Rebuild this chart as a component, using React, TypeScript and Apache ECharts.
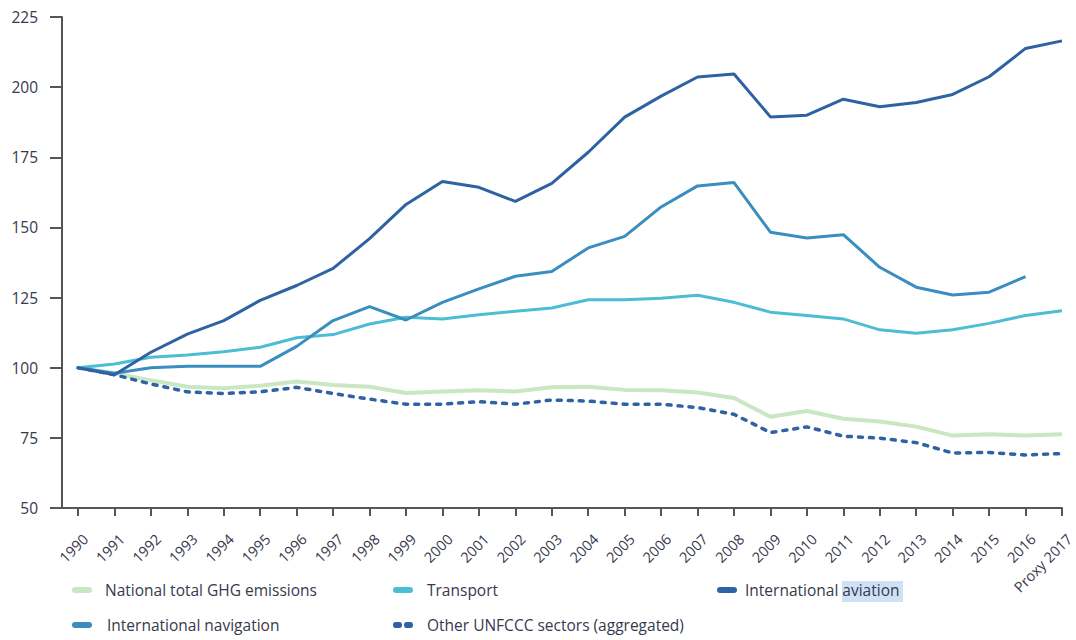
import React, { useEffect, useRef } from "react";
import * as echarts from "echarts";

const categories = [
  "1990", "1991", "1992", "1993", "1994", "1995", "1996", "1997", "1998", "1999",
  "2000", "2001", "2002", "2003", "2004", "2005", "2006", "2007", "2008", "2009",
  "2010", "2011", "2012", "2013", "2014", "2015", "2016", "Proxy 2017",
];

const ghgTotal = [
  100, 98, 95.5, 93.2, 92.7, 93.6, 95.1, 93.8, 93.2, 91, 91.5, 92, 91.5, 93, 93.2,
  92.1, 92, 91.2, 89.2, 82.5, 84.6, 81.8, 80.8, 79, 75.8, 76.3, 75.8, 76.3,
];
const transport = [
  100, 101.3, 103.7, 104.5, 105.7, 107.3, 110.7, 111.8, 115.6, 118, 117.4, 118.9,
  120.1, 121.3, 124.2, 124.2, 124.8, 125.8, 123.3, 119.8, 118.6, 117.4, 113.5, 112.3,
  113.5, 115.8, 118.6, 120.3,
];
const aviation = [
  100, 97.5, 105.5, 112, 116.8, 124, 129.3, 135.4, 146, 158.2, 166.4, 164.3, 159.3,
  165.7, 176.8, 189.3, 196.8, 203.6, 204.7, 189.4, 190, 195.7, 193, 194.5, 197.4,
  203.7, 213.8, 216.5,
];
const navigation = [
  100, 98, 100, 100.5, 100.5, 100.5, 107.6, 116.8, 121.8, 117, 123.3, 128.1, 132.6,
  134.3, 142.7, 146.8, 157.3, 164.8, 166, 148.3, 146.2, 147.4, 135.8, 128.7, 125.9,
  126.9, 132.5, null,
];
const otherSectors = [
  100, 97.5, 94.2, 91.4, 90.8, 91.4, 93, 90.8, 88.8, 87, 87, 87.9, 87, 88.5, 88.1, 87,
  87, 85.8, 83.4, 76.9, 78.9, 75.6, 74.9, 73.3, 69.6, 69.8, 68.9, 69.4,
];

const yTicks = { min: 50, max: 225, step: 25 };

const names = {
  ghg: "National total GHG emissions",
  transport: "Transport",
  aviation: "International aviation",
  navigation: "International navigation",
  other: "Other UNFCCC sectors (aggregated)",
};

const colors = {
  ghg: "#c9e7c2",
  transport: "#4dbdd3",
  aviation: "#2e62a3",
  navigation: "#3a8ebf",
  other: "#2e62a3",
};

const textColor = "#38384e";
const axisColor = "#555555";
const font = "'Open Sans', 'Noto Sans', sans-serif";

const dashIcon = "path://M3,0H17A3,3 0 0 1 17,6H3A3,3 0 0 1 3,0Z";
const dotIcon =
  "path://M2.5,0H6.5A2.5,3 0 0 1 6.5,6H2.5A2.5,3 0 0 1 2.5,0Z M13.5,0H17.5A2.5,3 0 0 1 17.5,6H13.5A2.5,3 0 0 1 13.5,0Z";

function legendItem(name: string, left: number, top: number, icon: string, gap: number) {
  return {
    data: [{ name, icon }],
    left,
    top,
    orient: "horizontal",
    itemWidth: 20,
    itemHeight: 6,
    selectedMode: false,
    padding: 0,
    textStyle: {
      color: textColor,
      fontFamily: font,
      fontSize: 15.5,
      padding: [0, 0, 0, gap],
    },
  };
}

export default function App() {
  const ref = useRef<HTMLDivElement>(null);

  useEffect(() => {
    if (!ref.current) return;
    const chart = echarts.init(ref.current, undefined, { renderer: "svg" });
    const option = {
      animation: false,
      backgroundColor: "#ffffff",
      grid: {
        left: 78,
        right: 14,
        top: 17,
        bottom: 132,
        containLabel: false,
        outerBoundsMode: "none",
      },
      legend: [
        legendItem(names.ghg, 72, 582, dashIcon, 8),
        legendItem(names.transport, 393, 582, dashIcon, 9),
        legendItem(names.aviation, 717, 582, dashIcon, 3),
        legendItem(names.navigation, 72, 617, dashIcon, 10),
        legendItem(names.other, 393, 617, dotIcon, 9),
      ],
      graphic: [
        {
          type: "rect",
          z: -1,
          shape: { x: 842, y: 581, width: 61, height: 21 },
          style: { fill: "#cfe1f7" },
        },
        {
          type: "line",
          shape: { x1: 50, y1: 508, x2: 79, y2: 508 },
          style: { stroke: axisColor, lineWidth: 2 },
        },
      ],
      xAxis: {
        type: "category",
        data: categories,
        boundaryGap: false,
        axisLine: { lineStyle: { color: axisColor, width: 2 } },
        axisTick: { show: true, length: 8, lineStyle: { color: axisColor, width: 2 } },
        axisLabel: {
          rotate: 45,
          interval: 0,
          margin: 21,
          verticalAlign: "top",
          padding: [3, 0, 0, 0],
          color: textColor,
          fontFamily: font,
          fontSize: 14.5,
        },
        splitLine: { show: false },
      },
      yAxis: {
        type: "value",
        min: yTicks.min,
        max: yTicks.max,
        interval: yTicks.step,
        offset: 16,
        axisLine: { show: true, lineStyle: { color: axisColor, width: 2 } },
        axisTick: { show: true, length: 12, lineStyle: { color: axisColor, width: 2 } },
        axisLabel: {
          margin: 24,
          color: textColor,
          fontFamily: font,
          fontSize: 15.5,
        },
        splitLine: { show: false },
      },
      series: [
        {
          name: names.ghg,
          type: "line",
          data: ghgTotal,
          symbol: "none",
          color: colors.ghg,
          lineStyle: { color: colors.ghg, width: 4 },
        },
        {
          name: names.other,
          type: "line",
          data: otherSectors,
          symbol: "none",
          color: colors.other,
          lineStyle: { color: colors.other, width: 3.5, type: [4, 7], cap: "round" },
        },
        {
          name: names.transport,
          type: "line",
          data: transport,
          symbol: "none",
          color: colors.transport,
          lineStyle: { color: colors.transport, width: 3 },
        },
        {
          name: names.navigation,
          type: "line",
          data: navigation,
          symbol: "none",
          color: colors.navigation,
          lineStyle: { color: colors.navigation, width: 3 },
        },
        {
          name: names.aviation,
          type: "line",
          data: aviation,
          symbol: "none",
          color: colors.aviation,
          lineStyle: { color: colors.aviation, width: 3 },
        },
      ],
    };
    chart.setOption(option as any);
    return () => chart.dispose();
  }, []);

  return (
    <div
      ref={ref}
      style={{ position: "fixed", left: 0, top: 0, width: 1076, height: 640, background: "#fff" }}
    />
  );
}
